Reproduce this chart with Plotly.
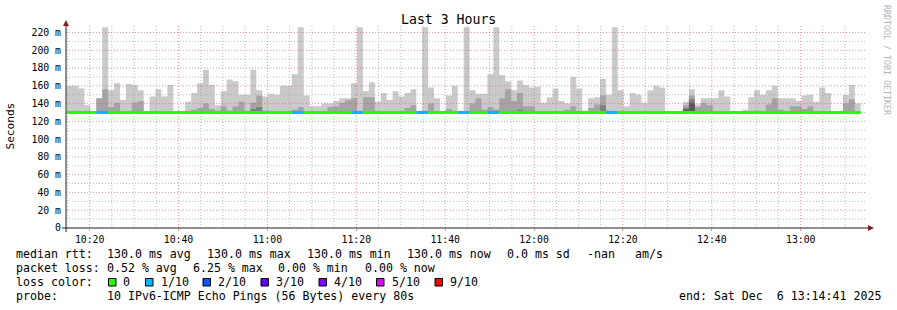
import plotly.graph_objects as go
from datetime import datetime, timedelta

# ---------------- data ----------------
first_step = "2025-12-06 10:14:50"   # start of the first 80 s step
step_seconds = 80
range_start = "2025-12-06 10:14:41"
range_end = "2025-12-06 13:14:41"

N = None
# upper edge of the smoke layers (ms); N = no smoke in that layer
smoke_max = [160, 160, 157, 138, N, 146, 226, 155, 163, 144,
             162, 161, 155, N, 148, 156, 148, 161, N, N,
             142, 152, 163, 178, 161, 138, 154, 167, 165, 150,
             150, 178, 155, 148, 151, 150, 160, 160, 173, 226,
             149, 137, 137, 140, 140, 143, 146, 146, 163, 226,
             154, 164, 142, 152, 144, 154, 148, 152, 156, N,
             226, 158, 146, N, 149, 160, N, 226, 155, 151,
             151, 173, 226, 172, 165, 155, 166, 161, 158, 159,
             141, 147, 157, 143, 140, 170, 157, 132, 146, 147,
             168, 150, 226, 155, 137, 152, 150, 141, 155, 160,
             158, N, N, 132, 142, 156, 139, 146, 146, 146,
             155, 148, 131, N, 133, 147, 155, 150, 155, 160,
             146, 146, 146, 143, 149, 150, 142, 158, 152, N,
             132, 150, 161, 140]
smoke_p9 = [N, 132, N, N, N, 146, 156, 136, 141, N,
            N, 141, 143, N, N, N, N, N, N, N,
            131, 133, 135, 140, 134, 132, 137, 132, 137, 142,
            N, 141, 149, 132, N, N, N, N, 133, 136,
            131, N, N, N, 136, 137, 141, 144, 146, N,
            147, 147, N, N, N, N, N, 135, 138, N,
            132, 140, N, N, 134, N, N, N, 140, 146,
            133, 136, 133, 146, 156, 143, 152, 137, 137, N,
            N, N, N, N, 133, 137, N, N, 135, 139,
            149, 132, N, N, N, N, N, N, N, N,
            N, N, N, N, 138, 149, 136, 141, 138, N,
            N, N, N, N, N, 131, 132, N, 139, 146,
            133, N, 137, 137, 134, 137, N, N, N, N,
            N, 140, 145, N]
smoke_p8 = [N, N, N, N, N, N, N, N, N, N,
            N, N, N, N, N, N, N, N, N, N,
            N, N, N, N, N, N, N, N, N, N,
            N, 134, 136, N, N, N, N, N, N, N,
            N, N, N, N, N, N, N, N, N, N,
            N, N, N, N, N, N, N, N, N, N,
            N, N, N, N, N, N, N, N, N, N,
            N, N, N, N, N, 131, 133, N, N, N,
            N, N, N, N, N, N, N, N, N, N,
            138, N, N, N, N, N, N, N, N, N,
            N, N, N, N, 135, 145, N, N, N, N,
            N, N, N, N, N, N, N, N, N, 131,
            N, N, N, N, N, N, N, N, N, N,
            N, N, N, N]
smoke_p7 = [N, N, N, N, N, N, N, N, N, N,
            N, N, N, N, N, N, N, N, N, N,
            N, N, N, N, N, N, N, N, N, N,
            N, N, N, N, N, N, N, N, N, N,
            N, N, N, N, N, N, N, N, N, N,
            N, N, N, N, N, N, N, N, N, N,
            N, N, N, N, N, N, N, N, N, N,
            N, N, N, N, N, N, N, N, N, N,
            N, N, N, N, N, N, N, N, N, N,
            N, N, N, N, N, N, N, N, N, N,
            N, N, N, N, 133, 141, N, N, N, N,
            N, N, N, N, N, N, N, N, N, N,
            N, N, N, N, N, N, N, N, N, N,
            N, N, N, N]
median_ms = [130.0, 130.0, 130.0, 130.0, 130.0, 130.0, 130.0, 130.0, 130.0, 130.0,
             130.0, 130.0, 130.0, 130.0, 130.0, 130.0, 130.0, 130.0, 130.0, 130.0,
             130.0, 130.0, 130.0, 130.0, 130.0, 130.0, 130.0, 130.0, 130.0, 130.0,
             130.0, 130.0, 130.0, 130.0, 130.0, 130.0, 130.0, 130.0, 130.0, 130.0,
             130.0, 130.0, 130.0, 130.0, 130.0, 130.0, 130.0, 130.0, 130.0, 130.0,
             130.0, 130.0, 130.0, 130.0, 130.0, 130.0, 130.0, 130.0, 130.0, 130.0,
             130.0, 130.0, 130.0, 130.0, 130.0, 130.0, 130.0, 130.0, 130.0, 130.0,
             130.0, 130.0, 130.0, 130.0, 130.0, 130.0, 130.0, 130.0, 130.0, 130.0,
             130.0, 130.0, 130.0, 130.0, 130.0, 130.0, 130.0, 130.0, 130.0, 130.0,
             130.0, 130.0, 130.0, 130.0, 130.0, 130.0, 130.0, 130.0, 130.0, 130.0,
             130.0, 130.0, 130.0, 130.0, 130.0, 130.0, 130.0, 130.0, 130.0, 130.0,
             130.0, 130.0, 130.0, 130.0, 130.0, 130.0, 130.0, 130.0, 130.0, 130.0,
             130.0, 130.0, 130.0, 130.0, 130.0, 130.0, 130.0, 130.0, 130.0, 130.0,
             130.0, 130.0, 130.0, 130.0]
loss_tenths = [0, 0, 0, 0, 0, 1, 1, 0, 0, 0,
               0, 0, 0, 0, 0, 0, 0, 0, 0, 0,
               0, 0, 0, 0, 0, 0, 0, 0, 0, 0,
               0, 0, 0, 0, 0, 0, 0, 0, 1, 1,
               0, 0, 0, 0, 0, 0, 0, 0, 1, 1,
               0, 0, 0, 0, 0, 0, 0, 0, 0, 1,
               1, 0, 0, 0, 0, 0, 1, 1, 0, 0,
               0, 1, 1, 0, 0, 0, 0, 0, 0, 0,
               0, 0, 0, 0, 0, 0, 0, 0, 0, 0,
               0, 1, 1, 0, 0, 0, 0, 0, 0, 0,
               0, 0, 0, 0, 0, 0, 0, 0, 0, 0,
               0, 0, 0, 0, 0, 0, 0, 0, 0, 0,
               0, 0, 0, 0, 0, 0, 0, 0, 0, 0,
               0, 0, 0, 0]

y_tick_values = [0, 20, 40, 60, 80, 100, 120, 140, 160, 180, 200, 220]
y_tick_labels = ["0", "20 m", "40 m", "60 m", "80 m", "100 m", "120 m",
                 "140 m", "160 m", "180 m", "200 m", "220 m"]
y_minor_values = [10, 30, 50, 70, 90, 110, 130, 150, 170, 190, 210]
x_tick_times = ["2025-12-06 10:20", "2025-12-06 10:40", "2025-12-06 11:00",
                "2025-12-06 11:20", "2025-12-06 11:40", "2025-12-06 12:00",
                "2025-12-06 12:20", "2025-12-06 12:40", "2025-12-06 13:00"]
x_tick_labels = ["10:20", "10:40", "11:00", "11:20", "11:40", "12:00",
                 "12:20", "12:40", "13:00"]
x_minor_step_minutes = 5

loss_colors = {0: "#26ff00", 1: "#00b8ff", 2: "#0059ff", 3: "#5e00ff",
               4: "#7e00ff", 5: "#dd00ff", 9: "#ff0000"}
legend_loss_levels = [0, 1, 2, 3, 4, 5, 9]
legend_loss_labels = ["0", "1/10", "2/10", "3/10", "4/10", "5/10", "9/10"]

title_text = "Last 3 Hours"
ylabel_text = "Seconds"
stats_rtt = ["median rtt:", "130.0 ms avg", "130.0 ms max", "130.0 ms min",
             "130.0 ms now", "0.0 ms sd", "-nan", "am/s"]
stats_loss = ["packet loss:", "0.52 % avg", "6.25 % max", "0.00 % min", "0.00 % now"]
probe_text = ["probe:", "10 IPv6-ICMP Echo Pings (56 Bytes) every 80s"]
end_text = "end: Sat Dec  6 13:14:41 2025"
watermark = "RRDTOOL / TOBI OETIKER"

# ---------------- layout geometry ----------------
W, H = 897, 310
ML, MR, MT, MB = 66, 31, 25, 82
PW, PH = W - ML - MR, H - MT - MB
Y_MAX = 228.4
FONT = "DejaVu Sans Mono"


def px(x):
    return (x - ML) / PW


def py(y):
    return (H - MB - y) / PH


t0 = datetime.strptime(first_step, "%Y-%m-%d %H:%M:%S")
n = len(smoke_max)
starts = [t0 + timedelta(seconds=step_seconds * k) for k in range(n)]
ends = [s + timedelta(seconds=step_seconds) for s in starts]

fig = go.Figure()

# smoke: one filled step polygon per contiguous run of steps
layers = [(smoke_max, "#cacaca"), (smoke_p9, "#a4a4a4"),
          (smoke_p8, "#7e7e7e"), (smoke_p7, "#585858")]
for vals, col in layers:
    xs, ys = [], []
    k = 0
    while k < n:
        if vals[k] is None:
            k += 1
            continue
        m = k
        while m + 1 < n and vals[m + 1] is not None:
            m += 1
        xs.append(starts[k]); ys.append(median_ms[k])
        for j in range(k, m + 1):
            xs += [starts[j], ends[j]]
            ys += [vals[j], vals[j]]
        for j in range(m, k - 1, -1):
            xs += [ends[j], starts[j]]
            ys += [median_ms[j], median_ms[j]]
        xs.append(None); ys.append(None)
        k = m + 1
    fig.add_trace(go.Scatter(x=xs, y=ys, mode="lines", fill="toself", fillcolor=col,
                             line=dict(width=0, color=col),
                             showlegend=False, hoverinfo="skip"))

# grid (drawn above the smoke, below the median line, like rrdtool)
MAJ = "rgba(222,79,79,0.6)"
MIN = "rgba(143,143,143,0.6)"
DASH = "1px,2px"
rs = datetime.strptime(range_start, "%Y-%m-%d %H:%M:%S")
re_ = datetime.strptime(range_end, "%Y-%m-%d %H:%M:%S")
majors = [datetime.strptime(t, "%Y-%m-%d %H:%M") for t in x_tick_times]
hx = {MAJ: ([], []), MIN: ([], [])}
for v in y_minor_values:
    hx[MIN][0].extend([rs, re_, None]); hx[MIN][1].extend([v, v, None])
for v in y_tick_values[1:]:
    hx[MAJ][0].extend([rs, re_, None]); hx[MAJ][1].extend([v, v, None])
t = datetime(rs.year, rs.month, rs.day, rs.hour,
             (rs.minute // x_minor_step_minutes + 1) * x_minor_step_minutes)
while t < re_:
    col = MAJ if t in majors else MIN
    hx[col][0].extend([t, t, None]); hx[col][1].extend([0, Y_MAX, None])
    t += timedelta(minutes=x_minor_step_minutes)
for col in (MIN, MAJ):
    fig.add_trace(go.Scatter(x=hx[col][0], y=hx[col][1], mode="lines",
                             line=dict(color=col, width=1, dash=DASH),
                             showlegend=False, hoverinfo="skip"))

# median line coloured by loss
for lvl in sorted(set(loss_tenths)):
    xs, ys = [], []
    prev = False
    for k in range(n):
        if loss_tenths[k] == lvl:
            if not prev:
                xs.append(starts[k]); ys.append(median_ms[k])
            xs.append(ends[k]); ys.append(median_ms[k])
            prev = True
        else:
            if prev:
                xs.append(None); ys.append(None)
            prev = False
    fig.add_trace(go.Scatter(x=xs, y=ys, mode="lines",
                             line=dict(color=loss_colors[lvl], width=3, shape="hv"),
                             showlegend=False, hoverinfo="skip"))

shapes = []
# axes with arrows
AX = "#1f1f1f"
AR = "#801f1f"
shapes.append(dict(type="line", xref="paper", yref="paper", x0=px(62), x1=px(869),
                   y0=0, y1=0, line=dict(color=AX, width=1), layer="above"))
shapes.append(dict(type="line", xref="paper", yref="paper", x0=0, x1=0,
                   y0=py(232), y1=py(24), line=dict(color=AX, width=1), layer="above"))
shapes.append(dict(type="path", xref="paper", yref="paper",
                   path=f"M {px(868)} {py(225)} L {px(874)} {py(228)} L {px(868)} {py(231)} Z",
                   fillcolor=AR, line=dict(width=0), layer="above"))
shapes.append(dict(type="path", xref="paper", yref="paper",
                   path=f"M {px(63)} {py(26)} L {px(66)} {py(20)} L {px(69)} {py(26)} Z",
                   fillcolor=AR, line=dict(width=0), layer="above"))

# legend colour boxes
box_x = [108.5, 145.5, 203, 261, 319, 376.5, 435]
lab_x = [123.3, 160.7, 218.3, 276, 334.3, 392, 450]
for bx, lvl in zip(box_x, legend_loss_levels):
    shapes.append(dict(type="rect", xref="paper", yref="paper",
                       x0=px(bx), x1=px(bx + 7.5), y0=py(286), y1=py(278.5),
                       fillcolor=loss_colors[lvl], line=dict(color="#000000", width=1)))

ann = []
NB = "\u00a0"


def txt(s, x, y, size=11.6, anchor="left", color="#000000", angle=0):
    ann.append(dict(text=s.replace(" ", NB), x=px(x), y=py(y), xref="paper", yref="paper",
                    xanchor=anchor, yanchor="middle", showarrow=False, textangle=angle,
                    borderpad=0, borderwidth=0,
                    font=dict(family=FONT, size=size, color=color)))


txt(title_text, 448.5, 19.5, size=13.2, anchor="center")
txt(ylabel_text, 10.5, 126, size=11.1, anchor="center", angle=-90)
txt(watermark, 887, 60, size=8.3, anchor="center", color="#b4b4b4", angle=90)

rtt_x = [16, 107.3, 207.3, 307.3, 407.3, 506.7, 586.7, 635]
for s, x in zip(stats_rtt, rtt_x):
    txt(s, x, 254.3)
loss_x = [16, 107.3, 193.3, 278.3, 365]
for s, x in zip(stats_loss, loss_x):
    txt(s, x, 268.3)
txt("loss color:", 16, 282.3)
for s, x in zip(legend_loss_labels, lab_x):
    txt(s, x, 282.3)
txt(probe_text[0], 16, 296.3)
txt(probe_text[1], 107.3, 296.3)
txt(end_text, 880.5, 296.3, anchor="right")

fig.update_layout(
    width=W, height=H, margin=dict(l=ML, r=MR, t=MT, b=MB, pad=0),
    paper_bgcolor="white", plot_bgcolor="white",
    showlegend=False,
    shapes=shapes, annotations=ann,
    xaxis=dict(type="date", range=[range_start, range_end],
               tickvals=x_tick_times, ticktext=x_tick_labels,
               showgrid=False, zeroline=False, showline=False,
               ticks="outside", ticklen=2, tickcolor=MAJ,
               tickfont=dict(family=FONT, size=9.8, color="#000000"),
               ticklabelstandoff=0, fixedrange=True),
    yaxis=dict(range=[0, Y_MAX], tickvals=y_tick_values, ticktext=y_tick_labels,
               showgrid=False, zeroline=False, showline=False, ticks="",
               tickfont=dict(family=FONT, size=9.8, color="#000000"),
               ticklabelstandoff=4, fixedrange=True),
)

fig.write_html("out.html")
